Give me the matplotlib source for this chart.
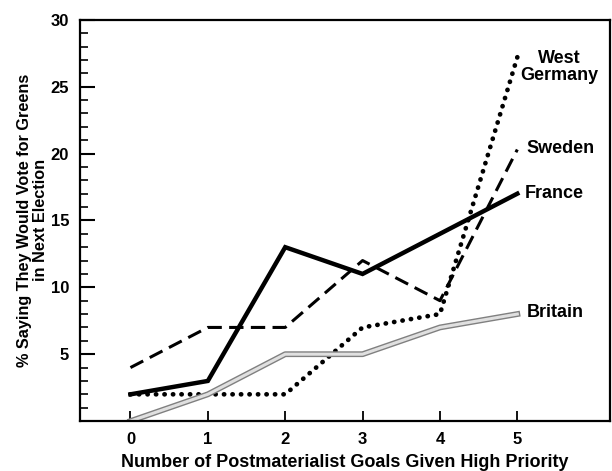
import matplotlib.pyplot as plt
import matplotlib.patheffects as pe

goals = [0, 1, 2, 3, 4, 5]
france = [2, 3, 13, 11, 14, 17]
sweden = [4, 7, 7, 12, 9, 20.3]
west_germany = [2, 2, 2, 7, 8, 27.2]
britain = [0, 2, 5, 5, 7, 8]

plt.rcParams['font.family'] = ['Liberation Sans', 'DejaVu Sans']
plt.rcParams['font.weight'] = 'bold'

fig = plt.figure(figsize=(6.12, 4.71), dpi=100)
ax = fig.add_axes([0.131, 0.106, 0.866, 0.852])

ax.plot(goals, france, color='black', lw=3.2, solid_joinstyle='miter')
ax.plot(goals, sweden, color='black', lw=2.2, linestyle=(0, (4.7, 2.4)))
ax.plot(goals, west_germany, color='black', lw=3.4, linestyle=(0, (0.05, 1.75)),
        dash_capstyle='round')
ax.plot(goals, britain, color='0.88', lw=2.2,
        path_effects=[pe.Stroke(linewidth=4.2, foreground='0.5'), pe.Normal()])

lab = dict(fontsize=13, fontweight='bold', va='center')
ax.text(5.54, 26.5, 'West\nGermany', ha='center', multialignment='center',
        linespacing=1.0, **lab)
ax.text(5.12, 20.4, 'Sweden', ha='left', **lab)
ax.text(5.1, 17.0, 'France', ha='left', **lab)
ax.text(5.12, 8.1, 'Britain', ha='left', **lab)

ax.set_xlim(-0.65, 6.2)
ax.set_ylim(0, 30)
ax.set_xticks(goals)
ax.set_yticks([5, 10, 15, 20, 25, 30])
ax.set_yticks(range(1, 30), minor=True)
ax.tick_params(axis='y', which='major', direction='in', length=11, width=1.5,
               labelsize=12, pad=8)
ax.tick_params(axis='y', which='minor', direction='in', length=5.5, width=1.2)
ax.tick_params(axis='x', direction='in', length=7, width=1.3, labelsize=12, pad=8)
for lbl in ax.get_xticklabels() + ax.get_yticklabels():
    lbl.set_fontweight('bold')
for s in ax.spines.values():
    s.set_linewidth(1.6)

ax.set_xlabel('Number of Postmaterialist Goals Given High Priority',
              fontsize=13, fontweight='bold', labelpad=5)
ax.set_ylabel('% Saying They Would Vote for Greens\nin Next Election',
              fontsize=11.7, fontweight='bold', labelpad=2, linespacing=1.05)

plt.savefig('out.png', dpi=100)
